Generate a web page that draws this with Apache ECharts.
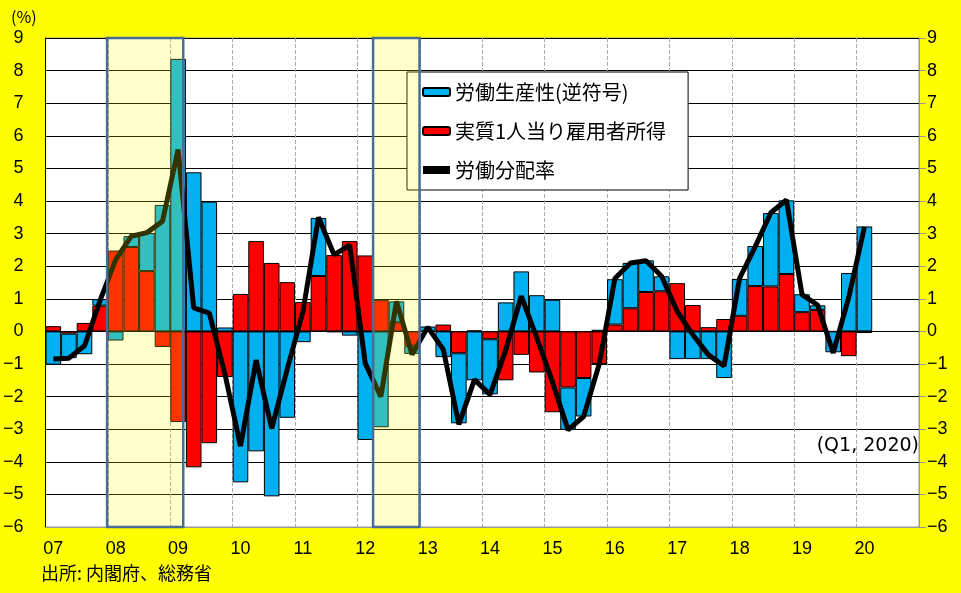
<!DOCTYPE html>
<html>
<head>
<meta charset="utf-8">
<script src="https://cdn.jsdelivr.net/npm/echarts@6/dist/echarts.min.js"></script>
<style>
html,body{margin:0;padding:0;background:#ffff00;}
#c{width:961px;height:593px;}
</style>
</head>
<body>
<div id="c"></div>
<script>
// Quarters 2007Q1 .. 2020Q4
var years = ['07','08','09','10','11','12','13','14','15','16','17','18','19','20'];
var categories = [];
years.forEach(function (y) { ['Q1','Q2','Q3','Q4'].forEach(function (q) { categories.push(y + q); }); });

// 労働生産性(逆符号)
var productivity = [
  -1.02, -0.75, -0.70, 0.20,
  -0.28, 0.33, 1.17, 3.88,
  8.36, 4.88, 3.98, 0.12,
  -4.63, -3.68, -5.06, -2.65,
  -0.33, 1.78, -0.02, -0.13,
  -3.33, -2.94, 0.64, -0.25,
  0.15, -0.79, -2.15, -1.50,
  -1.69, 0.89, 1.84, 1.11,
  0.97, -1.30, -1.18, 0.05,
  1.39, 1.39, 0.97, 0.46,
  -0.85, -0.85, -0.85, -1.43,
  1.13, 1.23, 2.25, 2.26,
  0.55, 0.14, -0.64, 1.79,
  3.22, null, null, null
];
// 実質1人当り雇用者所得
var compensation = [
  0.16, -0.07, 0.26, 0.79,
  2.48, 2.59, 1.85, -0.48,
  -2.78, -4.17, -3.43, -1.40,
  1.15, 2.77, 2.10, 1.51,
  0.90, 1.70, 2.34, 2.77,
  2.33, 0.97, 0.28, -0.44,
  0.00, 0.21, -0.67, 0.03,
  -0.24, -1.50, -0.72, -1.26,
  -2.48, -1.72, -1.43, -1.00,
  0.21, 0.71, 1.21, 1.23,
  1.48, 0.81, 0.13, 0.38,
  0.48, 1.39, 1.38, 1.76,
  0.59, 0.66, 0.00, -0.76,
  -0.05, null, null, null
];
// 労働分配率
var laborShare = [
  -0.85, -0.82, -0.44, 0.95,
  2.20, 2.92, 3.03, 3.38,
  5.58, 0.72, 0.56, -1.30,
  -3.52, -0.88, -2.98, -1.15,
  0.60, 3.50, 2.35, 2.65,
  -0.98, -2.00, 0.92, -0.71,
  0.13, -0.55, -2.85, -1.48,
  -1.94, -0.58, 1.08, -0.20,
  -1.55, -3.02, -2.61, -1.00,
  1.62, 2.10, 2.17, 1.69,
  0.61, -0.10, -0.72, -1.06,
  1.63, 2.60, 3.64, 4.03,
  1.13, 0.81, -0.66, 1.05,
  3.20, null, null, null
];
// shaded periods, in quarter units from 2007Q1
var shadedPeriods = [[3.95, 8.83], [21.0, 23.98]];
var yTicks = { min: -6, max: 9, interval: 1 };

var numFont = 'Liberation Sans';
var jpFont = 'Noto Sans CJK JP';
function minus(v) { return String(v).replace('-', '\u2212'); }

var chart = echarts.init(document.getElementById('c'));
chart.setOption({
  backgroundColor: '#ffff00',
  animation: false,
  grid: { left: 42, right: 42, top: 38, bottom: 66, show: true, backgroundColor: '#ffffff', borderColor: '#999999', borderWidth: 1 },
  legend: {
    data: [
      { name: '労働生産性(逆符号)' },
      { name: '実質1人当り雇用者所得' },
      { name: '労働分配率', icon: 'rect', itemStyle: { color: '#000', borderWidth: 0 } }
    ],
    orient: 'vertical',
    left: 407, top: 72,
    padding: [10, 22, 10, 15],
    itemGap: 19,
    itemWidth: 27, itemHeight: 8,
    backgroundColor: '#ffffff',
    borderColor: '#000000', borderWidth: 1,
    textStyle: { fontFamily: jpFont, fontSize: 20, color: '#000' },
    z: 3
  },
  xAxis: [{
    type: 'category',
    data: categories,
    boundaryGap: true,
    axisLine: { onZero: false, lineStyle: { color: '#999999' } },
    axisTick: { show: false, interval: 3 },
    axisLabel: {
      interval: 3, margin: 13,
      fontFamily: numFont, fontSize: 18, color: '#000',
      formatter: function (v) { return v.slice(0, 2); }
    },
    splitLine: { show: true, interval: 3, lineStyle: { color: '#aaaaaa', type: 'dashed', width: 1 } }
  }, {
    type: 'value', min: 0, max: 56, show: false, splitLine: { show: false }
  }],
  yAxis: [{
    type: 'value', min: yTicks.min, max: yTicks.max, interval: yTicks.interval,
    axisLine: { show: true, lineStyle: { color: '#000', width: 1 } },
    axisTick: { show: false },
    axisLabel: { margin: 22, fontFamily: numFont, fontSize: 18, color: '#000', formatter: minus },
    splitLine: { show: true, lineStyle: { color: '#000', width: 1 } }
  }, {
    type: 'value', position: 'right', min: yTicks.min, max: yTicks.max, interval: yTicks.interval,
    axisLine: { show: true, lineStyle: { color: '#999999' } },
    axisTick: { show: true, length: 7, lineStyle: { color: '#999999' } },
    axisLabel: { margin: 8, fontFamily: numFont, fontSize: 18, color: '#000', formatter: minus },
    splitLine: { show: false }
  }],
  series: [{
    name: '実質1人当り雇用者所得',
    type: 'bar', stack: 'total', barCategoryGap: '0%',
    data: compensation,
    itemStyle: { color: '#ff0000', borderColor: '#000', borderWidth: 1 },
    z: 2
  }, {
    name: '労働生産性(逆符号)',
    type: 'bar', stack: 'total', barCategoryGap: '0%',
    data: productivity,
    itemStyle: { color: '#00b0f0', borderColor: '#000', borderWidth: 1 },
    z: 2
  }, {
    name: '労働分配率',
    type: 'line',
    data: laborShare,
    symbol: 'none', showSymbol: false,
    lineStyle: { color: '#000', width: 5 },
    itemStyle: { color: '#000' },
    z: 4
  }, {
    name: 'shade',
    type: 'line', xAxisIndex: 1, yAxisIndex: 0,
    data: [],
    z: 10,
    silent: true,
    markArea: {
      silent: true,
      z: 10,
      itemStyle: { color: 'rgba(255,255,0,0.2)', borderColor: '#4a6b95', borderWidth: 2.5 },
      data: shadedPeriods.map(function (p) {
        return [{ xAxis: p[0], yAxis: 9 }, { xAxis: p[1], yAxis: -6.05 }];
      })
    }
  }],
  graphic: [
    { type: 'text', left: 11, top: 9, style: { text: '(%)', fontFamily: jpFont, fontSize: 16, fill: '#000' } },
    { type: 'text', right: 42, top: 437, style: { text: '(Q1, 2020)', fontFamily: 'DejaVu Sans', fontSize: 19, fill: '#000' } },
    { type: 'text', left: 41, top: 564, style: { text: '出所: 内閣府、総務省', fontFamily: jpFont, fontSize: 18, fill: '#000' } }
  ]
});
</script>
</body>
</html>
